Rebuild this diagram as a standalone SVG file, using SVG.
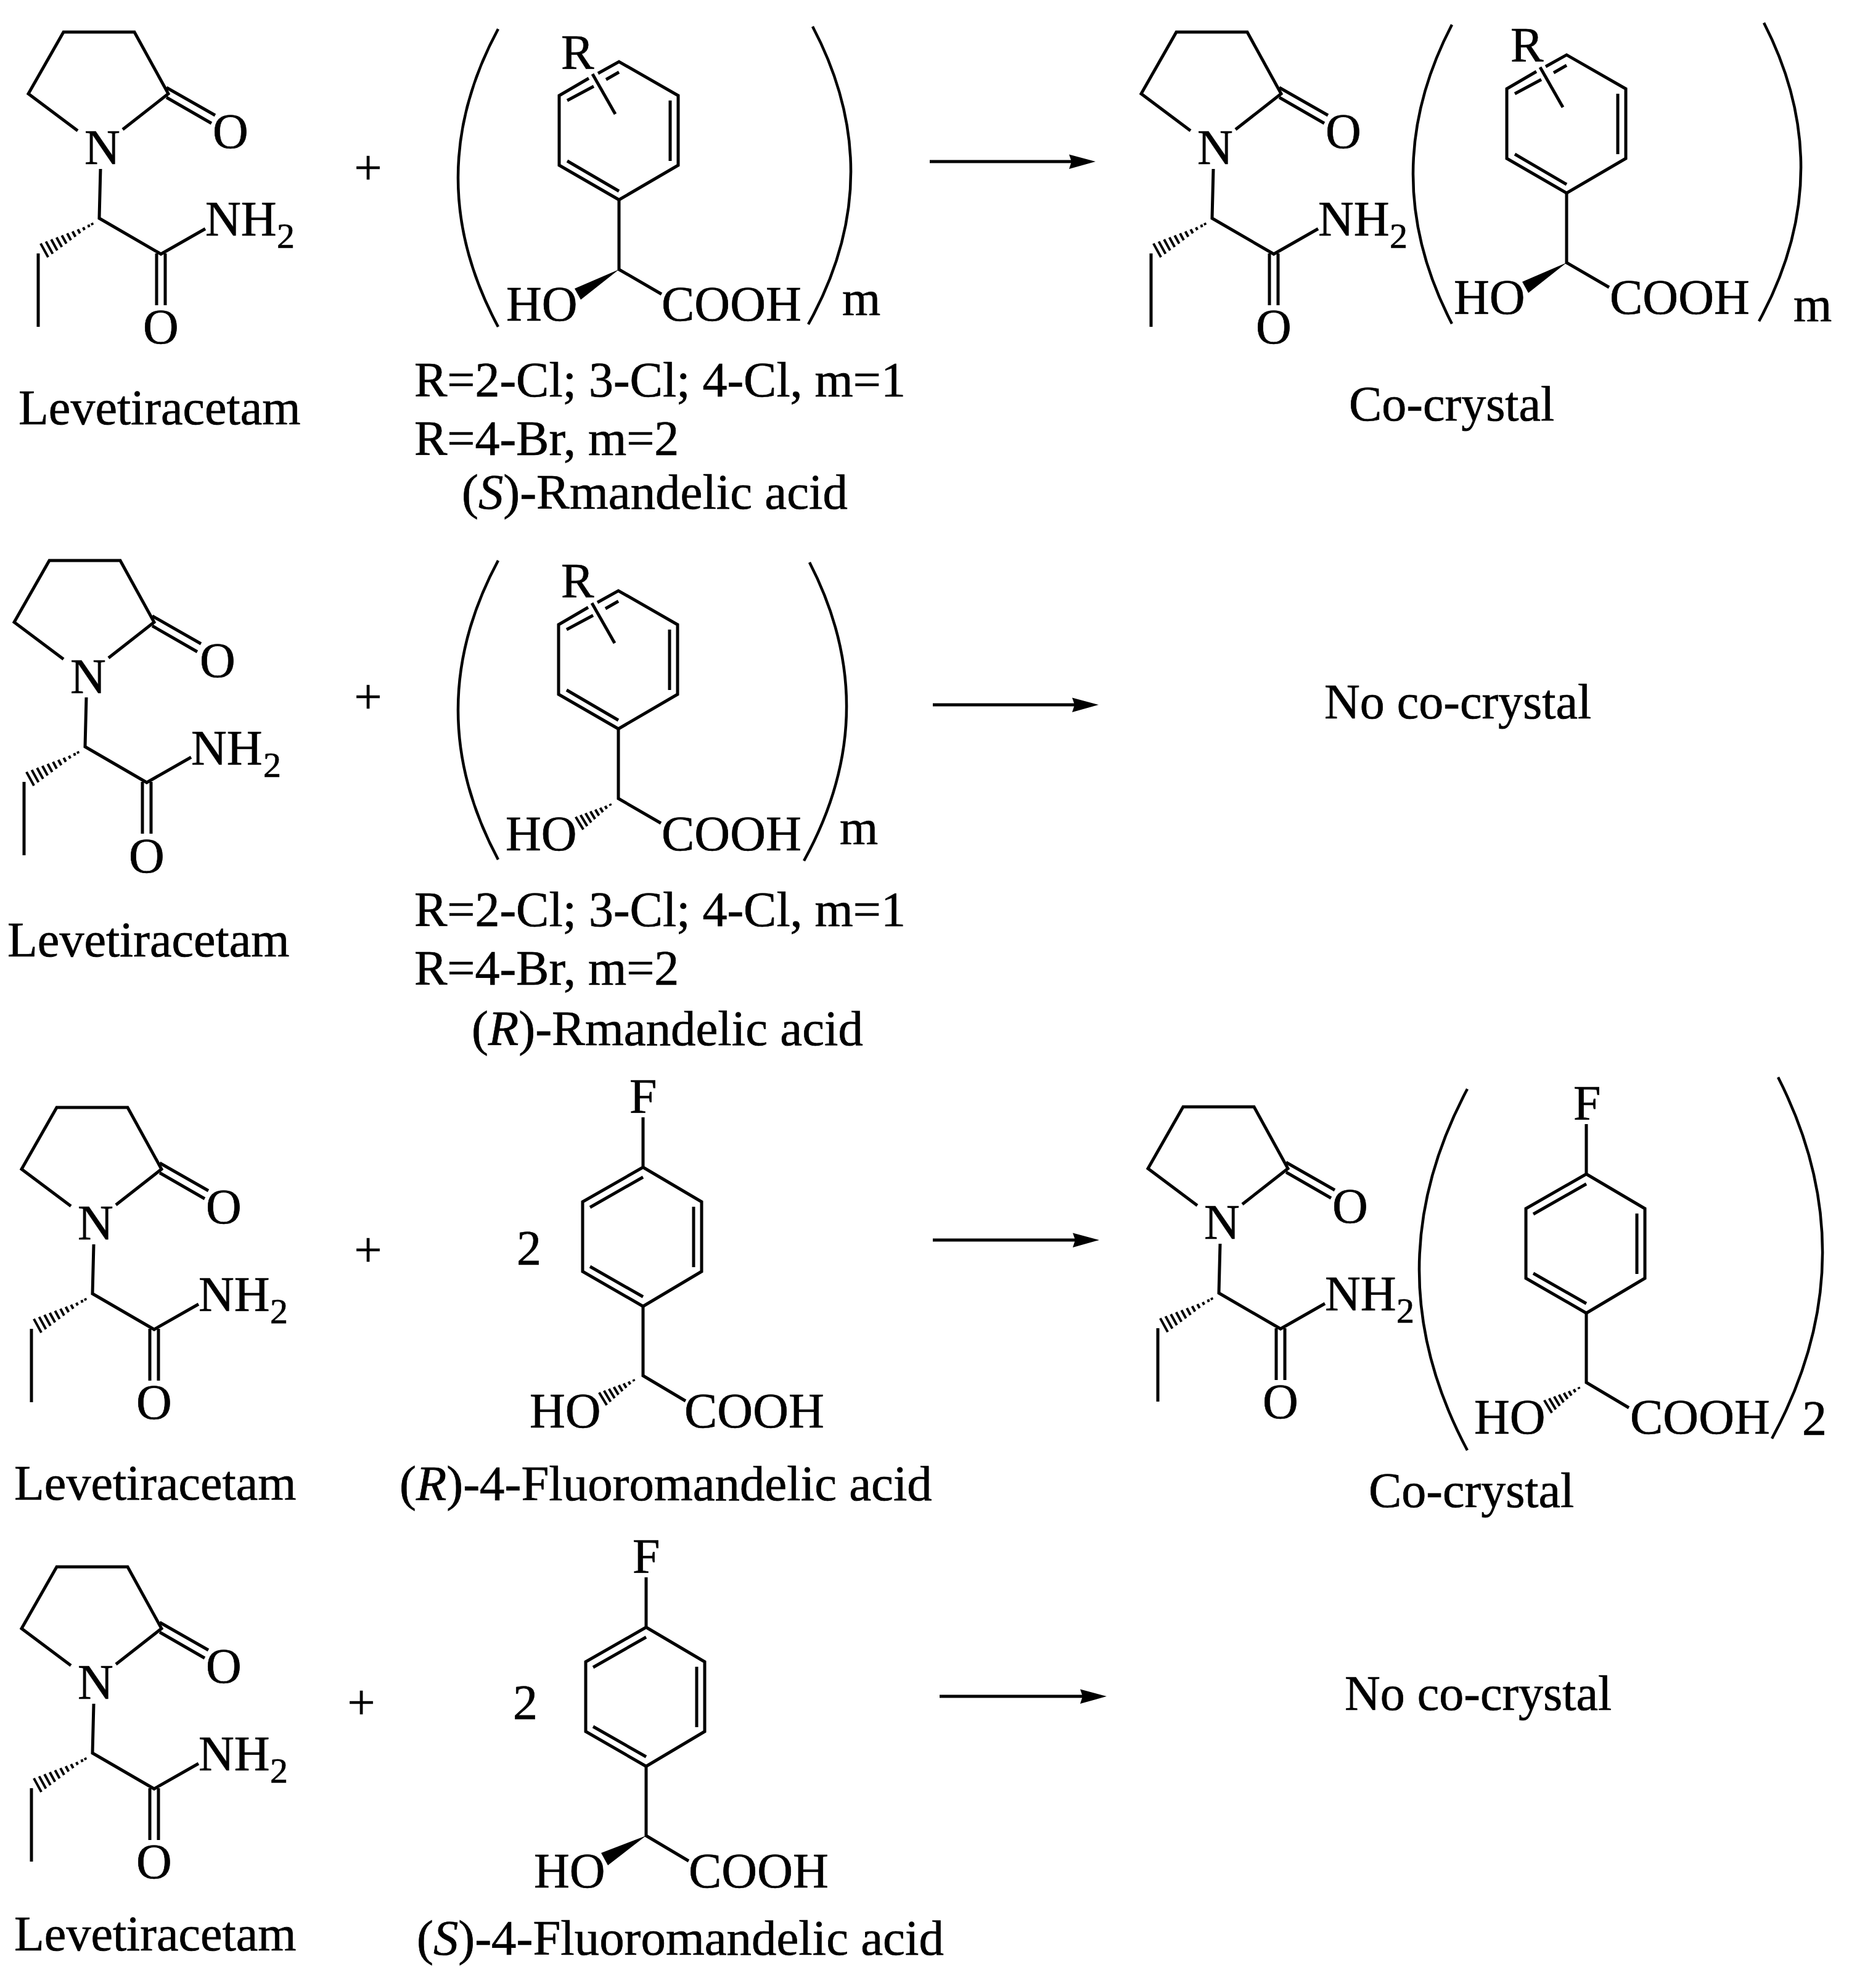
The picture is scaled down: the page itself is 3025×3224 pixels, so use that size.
<svg xmlns="http://www.w3.org/2000/svg" xmlns:xlink="http://www.w3.org/1999/xlink" width="3025" height="3224" viewBox="0 0 3025 3224">
<style>
text{font-family:"Liberation Serif","Times New Roman",serif;font-size:80px;fill:#000;stroke:#000;stroke-width:.7px}
text.sub{font-size:58px}
text.lab{font-size:80.8px}
.b{fill:none;stroke:#000;stroke-width:5;stroke-linejoin:miter;stroke-linecap:butt}
.h{fill:none;stroke:#000;stroke-width:4}
.p{fill:none;stroke:#000;stroke-width:4.5}
.a{stroke:#000;stroke-width:5;fill:none}
</style>
<defs>
<marker id="head" markerUnits="userSpaceOnUse" markerWidth="46" markerHeight="28" viewBox="0 0 46 28" refX="24" refY="14" orient="auto">
<path d="M2,2.500 L45,14 L2,26 L6,14 Z" fill="#000"/>
</marker>
<g id="levBonds">
<path class="b" d="M126,212 L46,152 L103,52 L218,52 L273,152 L199,210"/>
<path class="b" d="M270,142 L349,187 M270,158 L343,200"/>
<path class="b" d="M163,274 L161,354 L261,412 L333,371"/>
<path class="b" d="M254,411 V495 M268,411 V495"/>
<path class="b" d="M62,411 V530"/>
<path class="h" d="M65.9,394.9 L78.1,417.1 M74.5,391.6 L85.5,411.6 M83.1,388.3 L92.9,406.1 M91.7,385 L100.3,400.6 M100.3,381.7 L107.7,395.1 M109,378.4 L115,389.6 M117.6,375.2 L122.4,384 M126.2,371.9 L129.8,378.5 M134.8,368.6 L137.2,373 M143.4,364.3 L144.6,368.5 M149,361.5 L150.2,365"/>
</g>
<g id="ringR">
<path class="b" d="M955,127 L907,155 V268 L1004,324 L1100,268 V155 L1004,100 L970,119"/>
<path class="b" d="M920,163 L963,140 M983,129 L1004,117 M1087,163 V261 M920,261 L1004,310"/>
<path class="b" d="M961,120 L998,185"/>
<path class="b" d="M1004,324 V437 L1073,477"/>
</g>
<g id="ringF">
<path class="b" d="M1043,1812 V1893 L945,1949 V2062 L1043,2118.5 L1138,2062 V1949 L1043,1893"/>
<path class="b" d="M957,1958 L1043,1909 M1125,1957 V2055 M957,2054 L1043,2103"/>
<path class="b" d="M1043,2118.5 V2231 L1112,2272"/>
</g>
<path id="hashShort" class="h" d="M-61.2,22.7 L-48.8,43.3 M-53.3,19.7 L-42.5,37.7 M-45.3,16.8 L-36.1,32 M-37.4,13.8 L-29.8,26.4 M-29.4,10.9 L-23.4,20.7 M-21.5,8 L-17.1,15.2 M-13.5,5 L-10.7,9.6 M-5.6,1.5 L-4.4,4.5"/>
</defs>
<rect width="3025" height="3224" fill="#fff"/>

<g id="connectors">
<line class="a" x1="1508" y1="262" x2="1756" y2="262" marker-end="url(#head)"/>
<line class="a" x1="1513" y1="1143" x2="1761" y2="1143" marker-end="url(#head)"/>
<line class="a" x1="1513" y1="2011" x2="1762" y2="2011" marker-end="url(#head)"/>
<line class="a" x1="1524" y1="2751" x2="1774" y2="2751" marker-end="url(#head)"/>
</g>

<g id="lev1">
<use xlink:href="#levBonds" href="#levBonds"/>
<text x="137" y="266">N</text><text x="345" y="240">O</text><text x="333" y="382">NH</text><text class="sub" x="449" y="402">2</text><text x="232" y="557">O</text>
<text x="30" y="688">Levetiracetam</text>
</g>
<g id="plus1"><text x="574.5" y="299">+</text></g>
<g id="acid1">
<path class="p" d="M808,47 Q678,288 808,530"/><path class="p" d="M1318,43 Q1445.5,285 1311,526"/>
<use xlink:href="#ringR" href="#ringR"/>
<polygon points="1004,437 932,468 942,486" fill="#000"/>
<text x="910" y="112">R</text><text x="821" y="520">HO</text><text x="1073" y="520">COOH</text><text x="1366" y="511">m</text>
<text x="672" y="643">R=2-Cl; 3-Cl; 4-Cl, m=1</text>
<text x="672" y="738">R=4-Br, m=2</text>
<text class="lab" x="749" y="825">(<tspan font-style="italic">S</tspan>)-Rmandelic acid</text>
</g>
<g id="cocrystal1">
<g transform="translate(1805,0)"><use xlink:href="#levBonds" href="#levBonds"/></g>
<text x="1942" y="266">N</text><text x="2150" y="240">O</text><text x="2138" y="382">NH</text><text class="sub" x="2254" y="402">2</text><text x="2037" y="557">O</text>
<path class="p" d="M2355,40 Q2229,282 2355,525"/><path class="p" d="M2861,37 Q2985,279 2853,521"/>
<g transform="translate(1537,-11)"><use xlink:href="#ringR" href="#ringR"/><polygon points="1004,437 932,468 942,486" fill="#000"/></g>
<text x="2450" y="100">R</text><text x="2358" y="509">HO</text><text x="2611" y="509">COOH</text><text x="2909" y="521">m</text>
<text x="2188" y="682">Co-crystal</text>
</g>

<g id="lev2">
<g transform="translate(-23,857)"><use xlink:href="#levBonds" href="#levBonds"/></g>
<text x="114" y="1124">N</text><text x="324" y="1098">O</text><text x="310" y="1240">NH</text><text class="sub" x="427" y="1260">2</text><text x="209" y="1415">O</text>
<text x="12" y="1551">Levetiracetam</text>
</g>
<g id="plus2"><text x="574.5" y="1157">+</text></g>
<g id="acid2">
<path class="p" d="M808,909 Q678,1151 808,1394"/><path class="p" d="M1313,912 Q1437.5,1154 1304,1396"/>
<g transform="translate(-1,858)"><use xlink:href="#ringR" href="#ringR"/></g>
<use xlink:href="#hashShort" href="#hashShort" transform="translate(995,1302)"/>
<text x="910" y="969">R</text><text x="820" y="1379">HO</text><text x="1073" y="1379">COOH</text><text x="1362" y="1369">m</text>
<text x="672" y="1502">R=2-Cl; 3-Cl; 4-Cl, m=1</text>
<text x="672" y="1597">R=4-Br, m=2</text>
<text class="lab" x="765" y="1695">(<tspan font-style="italic">R</tspan>)-Rmandelic acid</text>
</g>
<g id="result2"><text x="2148" y="1165">No co-crystal</text></g>

<g id="lev3">
<g transform="translate(-11,1744)"><use xlink:href="#levBonds" href="#levBonds"/></g>
<text x="126" y="2010">N</text><text x="334" y="1984">O</text><text x="322" y="2126">NH</text><text class="sub" x="438" y="2146">2</text><text x="221" y="2301">O</text>
<text x="23" y="2432">Levetiracetam</text>
</g>
<g id="plus3"><text x="574.5" y="2054">+</text></g>
<g id="acid3">
<use xlink:href="#ringF" href="#ringF"/>
<use xlink:href="#hashShort" href="#hashShort" transform="translate(1033,2235.5)"/>
<text x="1021" y="1805">F</text><text x="838" y="2051">2</text><text x="859" y="2315">HO</text><text x="1110" y="2315">COOH</text>
<text class="lab" x="648" y="2433">(<tspan font-style="italic">R</tspan>)-4-Fluoromandelic acid</text>
</g>
<g id="cocrystal3">
<g transform="translate(1816,1743)"><use xlink:href="#levBonds" href="#levBonds"/></g>
<text x="1953" y="2009">N</text><text x="2161" y="1983">O</text><text x="2149" y="2125">NH</text><text class="sub" x="2265" y="2145">2</text><text x="2048" y="2300">O</text>
<path class="p" d="M2380,1766 Q2224,2059 2380,2352"/><path class="p" d="M2884,1747 Q3033,2040 2874,2333"/>
<g transform="translate(1530,11)"><use xlink:href="#ringF" href="#ringF"/></g>
<use xlink:href="#hashShort" href="#hashShort" transform="translate(2566,2248)"/>
<text x="2552" y="1816">F</text><text x="2391" y="2325">HO</text><text x="2644" y="2325">COOH</text><text x="2923" y="2327">2</text>
<text x="2220" y="2444">Co-crystal</text>
</g>

<g id="lev4">
<g transform="translate(-11,2489)"><use xlink:href="#levBonds" href="#levBonds"/></g>
<text x="126" y="2755">N</text><text x="334" y="2729">O</text><text x="322" y="2871">NH</text><text class="sub" x="438" y="2891">2</text><text x="221" y="3046">O</text>
<text x="23" y="3163">Levetiracetam</text>
</g>
<g id="plus4"><text x="563.5" y="2788">+</text></g>
<g id="acid4">
<g transform="translate(5,746)"><use xlink:href="#ringF" href="#ringF"/></g>
<polygon points="1048,2977 975,3005 986,3025" fill="#000"/>
<text x="1026" y="2551">F</text><text x="832" y="2788">2</text><text x="866" y="3061">HO</text><text x="1117" y="3061">COOH</text>
<text class="lab" x="676" y="3170">(<tspan font-style="italic">S</tspan>)-4-Fluoromandelic acid</text>
</g>
<g id="result4"><text x="2181" y="2773">No co-crystal</text></g>
</svg>
